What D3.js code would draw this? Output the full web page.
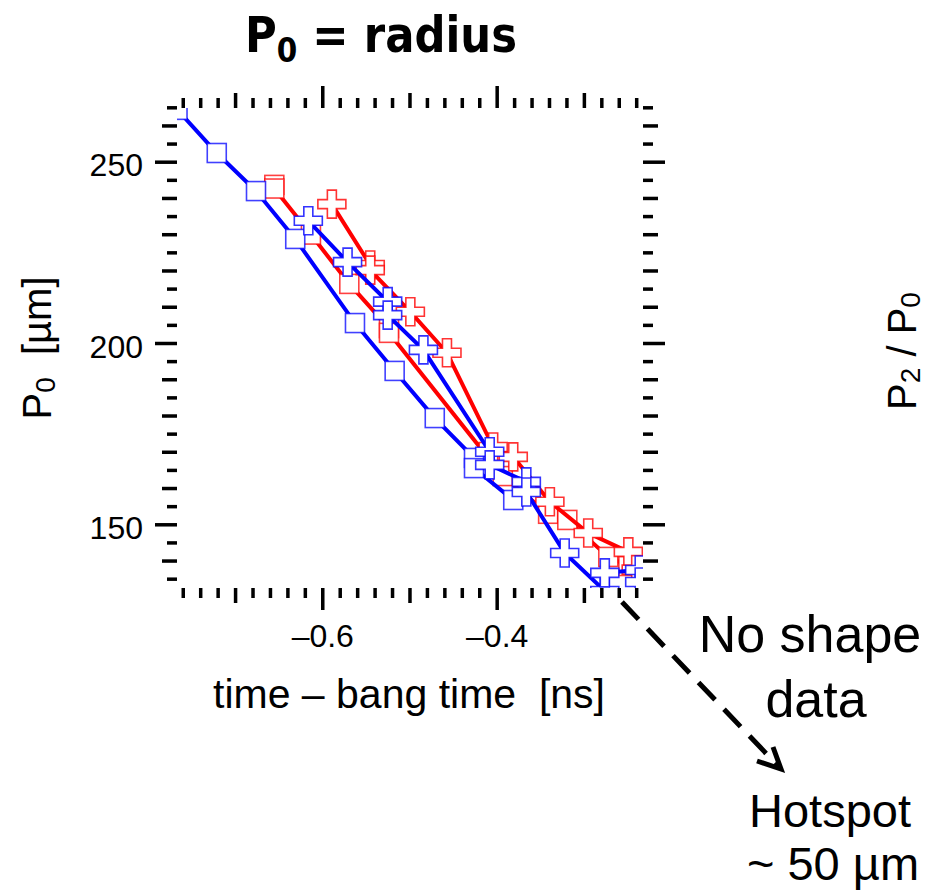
<!DOCTYPE html>
<html>
<head>
<meta charset="utf-8">
<script src="https://cdn.jsdelivr.net/npm/d3@7"></script>
<style>
  html, body { margin:0; padding:0; background:#fff; }
  text { font-family: "Liberation Sans", Arial, Helvetica, sans-serif; fill:#000; white-space: pre; }
</style>
</head>
<body>
<div id="chart-area"></div>
<script>
// P0 radius vs time - bang time, 4 traces (red/blue, squares/crosses)

const redSqTime  = [-0.655, -0.655, -0.613, -0.569, -0.5235, -0.5235, -0.393, -0.341, -0.319, -0.272, -0.249]
const redSqP0    = [243.6, 242.6, 229.9, 216.3, 204.1, 202.8, 163.3, 152.9, 151.2, 141.0, 138.5]

const redPlTime  = [-0.589, -0.545, -0.545, -0.499, -0.457, -0.404, -0.381, -0.339, -0.295, -0.249, -0.240]
const redPlP0    = [238.3, 221.5, 220.1, 208.6, 197.3, 171.3, 168.6, 156.2, 147.6, 142.4, 137.5]

const blueSqTime = [-0.766, -0.721, -0.676, -0.631, -0.5625, -0.517, -0.471, -0.426, -0.426, -0.381]
const blueSqP0   = [264.3, 252.4, 241.9, 228.7, 205.5, 192.3, 179.3, 168.3, 165.5, 156.7]

const bluePlTime = [-0.616, -0.571, -0.525, -0.525, -0.484, -0.408, -0.408, -0.366, -0.366, -0.322, -0.276, -0.276, -0.236, -0.236]
const bluePlP0   = [233.7, 222.3, 211.4, 207.7, 198.1, 170.0, 166.4, 161.7, 158.9, 142.1, 131.6, 136.6, 137.4, 134.1]

const xTickLabels = [-0.6, -0.4]
const yTickLabels = [150, 200, 250]

const MARGIN = {LEFT:177, TOP:108}
const WIDTH = 466
const HEIGHT = 480

const svg = d3.select("#chart-area").append("svg")
    .attr("width", 927)
    .attr("height", 891)
    .style("background", "#fff")

const g = svg.append("g")
    .attr("transform", `translate(${MARGIN.LEFT}, ${MARGIN.TOP})`)

const x = d3.scaleLinear()
    .domain([-0.7666, -0.2322])
    .range([0, WIDTH])

const y = d3.scaleLinear()
    .domain([132.43, 264.81])
    .range([HEIGHT, 0])

// ticks on all four sides, three lengths
const xAll = d3.range(-38, -11).map(i => i / 50)
const xMajor = xAll.filter(v => xTickLabels.some(t => Math.abs(t - v) < 1e-9))
const xMed = xAll.filter(v => !xMajor.includes(v) && Math.abs(Math.round(v * 10) - v * 10) < 1e-9)
const xMinor = xAll.filter(v => !xMajor.includes(v) && !xMed.includes(v))

const yAll = d3.range(27, 54).map(i => i * 5)
const yMajor = yAll.filter(v => yTickLabels.includes(v))
const yMed = yAll.filter(v => !yMajor.includes(v) && v % 10 === 0)
const yMinor = yAll.filter(v => v % 10 !== 0)

function ticks(axis, vals, size, tr) {
    const a = g.append("g")
        .attr("transform", tr || null)
        .call(axis.tickValues(vals).tickSize(size).tickFormat(""))
    a.select(".domain").remove()
    a.selectAll("line").attr("stroke", "#000").attr("stroke-width", 3.5)
    return a
}

const sizes = [[xMinor, yMinor, 10], [xMed, yMed, 15]]
sizes.forEach(([xv, yv, s]) => {
    ticks(d3.axisBottom(x), xv, s, `translate(0,${HEIGHT})`)
    ticks(d3.axisTop(x), xv, s)
    ticks(d3.axisLeft(y), yv, s)
    ticks(d3.axisRight(y), yv, s, `translate(${WIDTH},0)`)
})
ticks(d3.axisTop(x), xMajor, 22)
ticks(d3.axisRight(y), yMajor, 22, `translate(${WIDTH},0)`)

// labelled axes
const xAxisCall = d3.axisBottom(x)
    .tickValues(xMajor)
    .tickSize(22)
    .tickPadding(14)
    .tickFormat(d => "\u2013" + Math.abs(d).toFixed(1))
const xa = g.append("g")
    .attr("transform", `translate(0, ${HEIGHT})`)
    .call(xAxisCall)
xa.select(".domain").remove()
xa.selectAll("line").attr("stroke", "#000").attr("stroke-width", 3.5)
xa.selectAll("text")
    .attr("font-size", "32px")
    .attr("font-family", "Liberation Sans, Arial, sans-serif")

const yAxisCall = d3.axisLeft(y)
    .tickValues(yMajor)
    .tickSize(22)
    .tickPadding(12)
    .tickFormat(d3.format("d"))
const ya = g.append("g").call(yAxisCall)
ya.select(".domain").remove()
ya.selectAll("line").attr("stroke", "#000").attr("stroke-width", 3.5)
ya.selectAll("text")
    .attr("font-size", "32px")
    .attr("font-family", "Liberation Sans, Arial, sans-serif")
    .attr("dy", "0.44em")

// traces
g.append("clipPath").attr("id", "plotclip")
  .append("rect").attr("width", WIDTH).attr("height", HEIGHT)

const plot = g.append("g").attr("clip-path", "url(#plotclip)")

const series = [
    {time: redSqTime, p0: redSqP0, color: "#ff0000", marker: "square"},
    {time: redPlTime, p0: redPlP0, color: "#ff0000", marker: "plus"},
    {time: blueSqTime, p0: blueSqP0, color: "#0000ff", marker: "square"},
    {time: bluePlTime, p0: bluePlP0, color: "#0000ff", marker: "plus"}
]

const line = d3.line()
    .x(d => x(d.t))
    .y(d => y(d.v))

const plusPath = "M-4.5,-14H4.5V-4.5H14V4.5H4.5V14H-4.5V4.5H-14V-4.5H-4.5Z"

series.forEach(s => {
    const pts = s.time.map((t, i) => ({t: t, v: s.p0[i]}))
    plot.append("path")
        .datum(pts)
        .attr("d", line)
        .attr("fill", "none")
        .attr("stroke", s.color)
        .attr("stroke-width", 4)

    const m = plot.selectAll(null).data(pts).enter()
    if (s.marker === "square") {
        m.append("rect")
            .attr("x", d => x(d.t) - 9.5)
            .attr("y", d => y(d.v) - 9.5)
            .attr("width", 19)
            .attr("height", 19)
            .attr("fill", "#fff")
            .attr("stroke", s.color)
            .attr("stroke-opacity", 0.75)
            .attr("stroke-width", 1.6)
    } else {
        m.append("path")
            .attr("d", plusPath)
            .attr("transform", d => `translate(${x(d.t)},${y(d.v)})`)
            .attr("fill", "#fff")
            .attr("stroke", s.color)
            .attr("stroke-opacity", 0.8)
            .attr("stroke-width", 1.6)
    }
})

// axis titles
svg.append("text")
    .attr("x", 409)
    .attr("y", 708)
    .attr("font-size", "41px")
    .attr("text-anchor", "middle")
    .text("time \u2013 bang time  [ns]")

const yl = svg.append("text")
    .attr("transform", "translate(51,348) rotate(-90)")
    .attr("font-size", "40px")
    .attr("text-anchor", "middle")
yl.append("tspan").text("P")
yl.append("tspan").attr("font-size", "28px").attr("dy", 4).text("0")
yl.append("tspan").attr("dy", -4).text("  [\u00b5m]")

const yr = svg.append("text")
    .attr("transform", "translate(916,351) rotate(-90)")
    .attr("font-size", "40px")
    .attr("text-anchor", "middle")
yr.append("tspan").text("P")
yr.append("tspan").attr("font-size", "28px").attr("dy", 4).text("2")
yr.append("tspan").attr("dy", -4).text(" / P")
yr.append("tspan").attr("font-size", "28px").attr("dy", 4).text("0")

// title, condensed bold
const tg = svg.append("g").attr("transform", "translate(245,52)")
const title = tg.append("text")
    .attr("font-size", "50px")
    .attr("font-weight", "bold")
    .style("font-family", "'Liberation Sans Narrow', 'DejaVu Sans Condensed', 'Liberation Sans', sans-serif")
title.append("tspan").text("P")
title.append("tspan").attr("font-size", "34px").attr("dy", 10).text("0")
title.append("tspan").attr("dy", -10).text(" = radius")
const tw = title.node().getBBox().width
tg.attr("transform", `translate(245,52) scale(${272 / tw},1)`)

// annotation
svg.append("line")
    .attr("x1", 622).attr("y1", 602)
    .attr("x2", 779).attr("y2", 767)
    .attr("stroke", "#000")
    .attr("stroke-width", 5)
    .attr("stroke-dasharray", "24,13")
svg.append("polyline")
    .attr("points", "757,761 781,769 773,747")
    .attr("fill", "none")
    .attr("stroke", "#000")
    .attr("stroke-width", 5)

const notes = [
    {t: "No shape", x: 810, y: 652, s: 52},
    {t: "data", x: 816, y: 717, s: 52},
    {t: "Hotspot", x: 830, y: 827, s: 47},
    {t: "~ 50 \u00b5m", x: 833, y: 880, s: 47}
]
svg.selectAll(null).data(notes).enter().append("text")
    .attr("x", d => d.x)
    .attr("y", d => d.y)
    .attr("font-size", d => d.s + "px")
    .attr("text-anchor", "middle")
    .text(d => d.t)
</script>
</body>
</html>
